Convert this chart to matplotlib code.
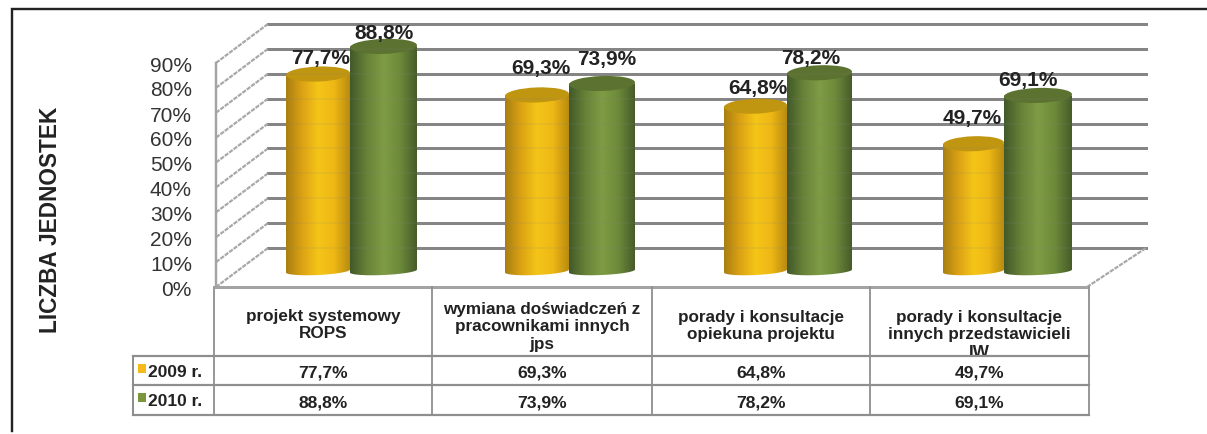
import numpy as np
import matplotlib
matplotlib.use("Agg")
import matplotlib.pyplot as plt
from matplotlib.colors import LinearSegmentedColormap
from matplotlib.patches import Ellipse, PathPatch, Rectangle
from matplotlib.path import Path

plt.rcParams['font.family'] = ['Liberation Sans', 'DejaVu Sans']

# ========================
# DATA
# ========================

categories = [
    "projekt systemowy\nROPS",
    "wymiana doświadczeń z\npracownikami innych\njps",
    "porady i konsultacje\nopiekuna projektu",
    "porady i konsultacje\ninnych przedstawicieli\nIW",
]
series_names = ["2009 r.", "2010 r."]
values_2009 = [77.7, 69.3, 64.8, 49.7]
values_2010 = [88.8, 73.9, 78.2, 69.1]
tick_values = [0, 10, 20, 30, 40, 50, 60, 70, 80, 90]

# ========================
# LAYOUT (pixels of the picture)
# ========================

PX = 0.72  # one pixel in points at dpi 100

scale = 2.49
back_x0, back_x1, back_y0 = 268, 1146, 249
front_x0, front_x1, front_y0 = 216, 1087, 288
bar_y0 = 268.5

bars_2009 = [(286, 350), (505, 569), (724, 787), (943, 1004)]
bars_2010 = [(350, 417), (569, 635), (787, 852), (1004, 1072)]

label_x_2009 = [321, 541, 758, 972]
label_x_2010 = [384, 607, 811, 1028]
label_up_2009 = [17, 27, 19, 26]
label_up_2010 = [14, 25, 15, 16]

col_x = [214, 432, 652, 870, 1089]
row_y = [288, 357, 386, 416]
cat_y = [325, 327, 326, 335]

text_col = "#222222"
grid_col = "#858585"
wall_col = "#a3a3a3"
table_col = "#8e8e8e"

yellow_cmap = LinearSegmentedColormap.from_list(
    "yellow", ["#a97f12", "#dba214", "#f5c518", "#eeb815", "#b98c10"])
green_cmap = LinearSegmentedColormap.from_list(
    "green", ["#42592a", "#688238", "#7f9c45", "#6d8a3a", "#475c2a"])

fig = plt.figure(figsize=(12.07, 4.35), dpi=100)
ax = fig.add_axes([0, 0, 1, 1])

# ========================
# FRAME
# ========================

ax.plot([12, 12, 1207], [432, 10, 10], color="#222222", lw=2.4 * PX, zorder=1,
        solid_joinstyle="miter")

# ========================
# WALLS AND GRID
# ========================

for v in tick_values:
    ax.plot([back_x0, back_x1], [back_y0 - v * scale] * 2,
            color=grid_col, lw=3 * PX, zorder=2)
    ax.plot([front_x0, back_x0],
            [front_y0 - v * scale, back_y0 - v * scale],
            color="#a8a8a8", lw=2.2 * PX, ls=(0, (2, 0.5)), zorder=2)
    ax.text(192, front_y0 + 3 - v * 2.5, f"{v}%", ha="right", va="center",
            fontsize=15, color="#333333", zorder=5)

ax.plot([front_x0, front_x0], [front_y0, front_y0 - 90 * scale],
        color=wall_col, lw=2.4 * PX, zorder=2)
ax.plot([front_x0, front_x1], [front_y0, front_y0],
        color=wall_col, lw=3 * PX, zorder=2)
ax.plot([front_x1, back_x1], [front_y0, back_y0],
        color="#a8a8a8", lw=2.2 * PX, ls=(0, (2, 0.5)), zorder=2)

# ========================
# CYLINDERS
# ========================

gradient = np.linspace(0, 1, 128).reshape(1, -1)


def draw_cylinder(x0, x1, value, cmap, top_col, z):

    top_y = bar_y0 - value * scale

    t = np.linspace(0, np.pi, 40)
    cx = (x0 + x1) / 2
    w = (x1 - x0) / 2
    arc_x = cx + w * np.cos(t)
    arc_y = bar_y0 + 3.5 + 4 * np.sin(t) - 1.5 * np.cos(t)

    xs = np.r_[x0, x1, arc_x]
    ys = np.r_[top_y, top_y, arc_y]
    outline = PathPatch(Path(np.c_[xs, ys]), transform=ax.transData,
                        fc="none", ec="none")
    ax.add_patch(outline)

    im = ax.imshow(gradient, extent=(x0, x1, bar_y0 + 10, top_y),
                   cmap=cmap, aspect="auto", zorder=z)
    im.set_clip_path(outline)

    ax.add_patch(Ellipse((cx, top_y), x1 - x0, 15, angle=-2,
                         fc=top_col, ec="none", zorder=z + 0.1))


for (x0, x1), v in zip(bars_2009, values_2009):
    draw_cylinder(x0, x1, v, yellow_cmap, "#c0950f", 3)

for (x0, x1), v in zip(bars_2010, values_2010):
    draw_cylinder(x0, x1, v, green_cmap, "#5b7231", 4)

# grid shows faintly through the bars
for v in tick_values:
    ax.plot([back_x0, back_x1], [back_y0 - v * scale] * 2,
            color=grid_col, lw=2 * PX, alpha=0.1, zorder=4.5)

# ========================
# DATA LABELS
# ========================

for x, up, v in zip(label_x_2009, label_up_2009, values_2009):
    ax.text(x, bar_y0 - v * scale - up, f"{v:.1f}%".replace(".", ","),
            ha="center", va="center", fontsize=15, fontweight="bold",
            color=text_col, zorder=6)

for x, up, v in zip(label_x_2010, label_up_2010, values_2010):
    ax.text(x, bar_y0 - v * scale - up, f"{v:.1f}%".replace(".", ","),
            ha="center", va="center", fontsize=15, fontweight="bold",
            color=text_col, zorder=6)

# ========================
# TABLE
# ========================

for x in col_x:
    ax.plot([x, x], [row_y[0], row_y[-1]], color=table_col, lw=1.8 * PX, zorder=7)
ax.plot([133, 133], [row_y[1], row_y[-1]], color=table_col, lw=2 * PX, zorder=7)
for y in row_y[1:]:
    ax.plot([133, col_x[-1]], [y, y], color=table_col, lw=2.2 * PX, zorder=7)

for i, cat in enumerate(categories):
    x = (col_x[i] + col_x[i + 1]) / 2
    t = ax.text(x, cat_y[i], cat, ha="center", va="center", fontsize=12.3,
                fontweight="bold", color=text_col, linespacing=1.2, zorder=6)
    # last line of the long labels is cut by the row below
    t.set_clip_path(Rectangle((col_x[i], row_y[0]), col_x[i + 1] - col_x[i],
                              row_y[1] - row_y[0], transform=ax.transData))

for r, vals in enumerate([values_2009, values_2010]):
    y = (row_y[r + 1] + row_y[r + 2]) / 2
    for i, v in enumerate(vals):
        ax.text((col_x[i] + col_x[i + 1]) / 2, y + 2,
                f"{v:.1f}%".replace(".", ","), ha="center", va="center",
                fontsize=12.6, fontweight="bold", color=text_col, zorder=6)
    ax.add_patch(Rectangle((138, y - 7), 8, 9,
                           fc=["#f5b91a", "#7b963d"][r], ec="none", zorder=6))
    ax.text(148, y + 1, series_names[r], ha="left", va="center", fontsize=12.5,
            fontweight="bold", color=text_col, zorder=6)

# ========================
# AXIS TITLE
# ========================

ax.text(51, 220, "LICZBA JEDNOSTEK", rotation=90, ha="center", va="center",
        fontsize=16.3, fontweight="bold", color=text_col)

ax.set_xlim(0, 1207)
ax.set_ylim(435, 0)
ax.axis("off")

fig.savefig("out.png", dpi=100, facecolor="white")
